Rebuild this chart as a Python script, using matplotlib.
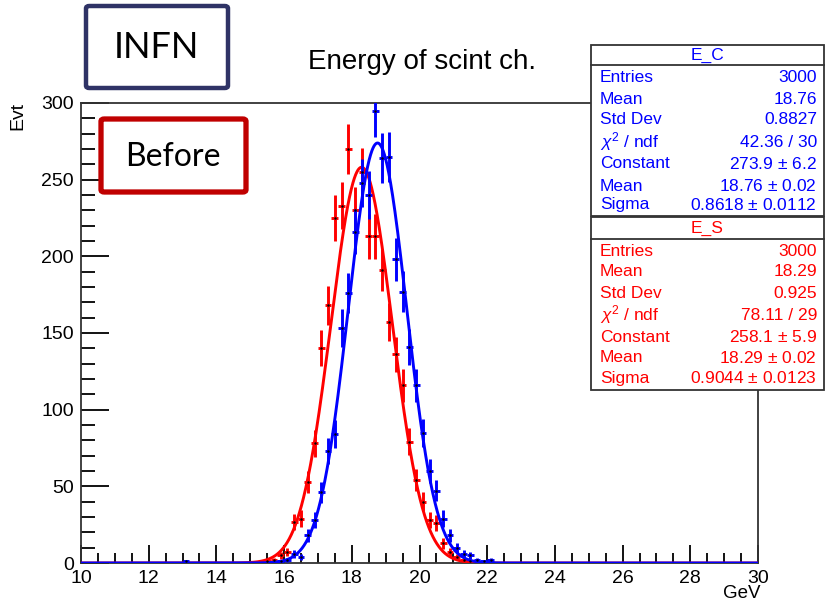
import numpy as np
import matplotlib
matplotlib.use("Agg")
import matplotlib.pyplot as plt
from matplotlib.patches import Rectangle, FancyBboxPatch

# ---------------- data ----------------
bin_width = 0.2
# E_S (red) histogram: bin centers and counts
es_centers = [15.5, 15.7, 15.9, 16.1, 16.3, 16.5, 16.7, 16.9, 17.1, 17.3, 17.5, 17.7,
              17.9, 18.1, 18.3, 18.5, 18.7, 18.9, 19.1, 19.3, 19.5, 19.7, 19.9, 20.1,
              20.3, 20.5, 20.7, 20.9, 21.1, 21.3, 21.5]
es_counts = [1, 2, 5, 7, 27, 29, 53, 78, 140, 168, 225, 233,
             270, 230, 255, 213, 213, 191, 157, 136, 116, 79, 54, 40,
             28, 26, 13, 7, 4, 2, 1]
# E_C (blue) histogram
ec_centers = [13.1, 15.9, 16.1, 16.3, 16.5, 16.7, 16.9, 17.1, 17.3, 17.5, 17.7, 17.9,
              18.1, 18.3, 18.5, 18.7, 18.9, 19.1, 19.3, 19.5, 19.7, 19.9, 20.1, 20.3,
              20.5, 20.7, 20.9, 21.1, 21.3, 21.5, 21.7, 21.9, 22.1]
ec_counts = [1, 1, 2, 6, 4, 18, 28, 46, 73, 84, 153, 176,
             216, 248, 240, 295, 264, 265, 198, 177, 141, 116, 85, 60,
             47, 29, 18, 10, 6, 5, 2, 1, 2]

# Gaussian fit parameters (constant, mean, sigma) from the stat boxes
ec_fit = [273.9, 18.76, 0.8618]
es_fit = [258.1, 18.29, 0.9044]

ec_stats = [("Entries", "3000"), ("Mean", "18.76"), ("Std Dev", "0.8827"),
            (r"$\chi^{2}$ / ndf", "42.36 / 30"), ("Constant", r"273.9 $\pm$ 6.2"),
            ("Mean", r"18.76 $\pm$ 0.02"), ("Sigma", r"0.8618 $\pm$ 0.0112")]
es_stats = [("Entries", "3000"), ("Mean", "18.29"), ("Std Dev", "0.925"),
            (r"$\chi^{2}$ / ndf", "78.11 / 29"), ("Constant", r"258.1 $\pm$ 5.9"),
            ("Mean", r"18.29 $\pm$ 0.02"), ("Sigma", r"0.9044 $\pm$ 0.0123")]

x_ticks = [10, 12, 14, 16, 18, 20, 22, 24, 26, 28, 30]
y_ticks = [0, 50, 100, 150, 200, 250, 300]

# ---------------- figure ----------------
W, H = 825, 606
plt.rcParams['font.family'] = ['Liberation Sans', 'DejaVu Sans']
plt.rcParams['mathtext.fontset'] = 'custom'
plt.rcParams['mathtext.rm'] = 'Liberation Sans'
plt.rcParams['mathtext.it'] = 'Liberation Sans:italic'

fig = plt.figure(figsize=(W / 100, H / 100), dpi=100)

def fx(px):
    return px / W

def fy(py):
    return 1 - py / H

ax_l, ax_r, ax_t, ax_b = 81, 758, 103, 563
ax = fig.add_axes([fx(ax_l), fy(ax_b), fx(ax_r) - fx(ax_l), fy(ax_t) - fy(ax_b)])
ax.set_xlim(10, 30)
ax.set_ylim(0, 300)

def gauss(x, p):
    return p[0] * np.exp(-0.5 * ((x - p[1]) / p[2]) ** 2)

xs = np.linspace(10, 30, 2000)

LW = 2.1
# red
es_c = np.array(es_centers)
es_n = np.array(es_counts, dtype=float)
ax.errorbar(es_c, es_n, xerr=bin_width / 2, yerr=np.sqrt(es_n), fmt='none',
            ecolor='#ff0000', elinewidth=LW, capsize=0, zorder=2)
ax.plot(xs, gauss(xs, es_fit), color='#ff0000', lw=LW, zorder=3)
# blue
ec_c = np.array(ec_centers)
ec_n = np.array(ec_counts, dtype=float)
ax.errorbar(ec_c, ec_n, xerr=bin_width / 2, yerr=np.sqrt(ec_n), fmt='none',
            ecolor='#0000ff', elinewidth=LW, capsize=0, zorder=4)
ax.plot(xs, gauss(xs, ec_fit), color='#0000ff', lw=LW, zorder=5)
ax.plot(es_c, es_n, ls='none', marker='.', ms=1.5, color='k', zorder=6)
ax.plot(ec_c, ec_n, ls='none', marker='.', ms=1.5, color='k', zorder=6)

# axes style (ROOT-like)
for s in ['top', 'right', 'left', 'bottom']:
    ax.spines[s].set_linewidth(1.3)
    ax.spines[s].set_color('#333333')
ax.set_xticks(x_ticks)
ax.set_xticks(np.arange(10, 30.01, 0.5), minor=True)
ax.set_yticks(y_ticks)
ax.set_yticks(np.arange(0, 300.01, 10), minor=True)
ax.tick_params(axis='x', which='major', direction='in', length=13, width=1.3,
               labelsize=14, pad=5, top=False)
ax.tick_params(axis='x', which='minor', direction='in', length=7, width=1.3, top=False)
ax.tick_params(axis='y', which='major', direction='in', length=20, width=1.3,
               labelsize=14, pad=5, right=False)
ax.tick_params(axis='y', which='minor', direction='in', length=10, width=1.3, right=False)

fig.text(fx(760), fy(593), "GeV", ha='right', va='center', fontsize=13.5)
fig.text(fx(18), fy(116), "Evt", ha='center', va='center', rotation=90, fontsize=14)
fig.text(fx(422), fy(62), "Energy of scint ch.", ha='center', va='center', fontsize=20)

# stat boxes
SF = 12.5
def stat_box(top, sep, bottom, title_y, title, rows, row_ys, color):
    left, right = 591, 824
    fig.patches.append(Rectangle((fx(left), fy(bottom)), fx(right) - fx(left),
                                 fy(top) - fy(bottom), transform=fig.transFigure,
                                 facecolor='white', edgecolor='#333333', lw=1.3, zorder=10))
    fig.lines.append(plt.Line2D([fx(left), fx(right)], [fy(sep), fy(sep)],
                                transform=fig.transFigure, color='#333333', lw=1.3, zorder=11))
    fig.text(fx((left + right) / 2), fy(title_y), title, ha='center', va='center',
             color=color, fontsize=SF, zorder=12)
    for (lab, val), yy in zip(rows, row_ys):
        fig.text(fx(600), fy(yy), lab, ha='left', va='center', color=color,
                 fontsize=SF, zorder=12)
        fig.text(fx(817), fy(yy), val, ha='right', va='center', color=color,
                 fontsize=SF, zorder=12)

stat_box(45, 65, 216, 55, "E_C", ec_stats,
         [77, 99, 120, 142, 164, 186, 205], '#0000ff')
stat_box(217, 239, 390, 228, "E_S", es_stats,
         [251, 272, 294, 315, 337, 358, 378], '#ff0000')

# label boxes
fig.patches.append(FancyBboxPatch((fx(86), fy(88)), fx(228) - fx(86), fy(6) - fy(88),
                                  boxstyle="round,pad=0,rounding_size=0.004",
                                  transform=fig.transFigure, facecolor='white',
                                  edgecolor='#2f3366', lw=3.2, zorder=10))
fig.text(fx(156), fy(48), "INFN", ha='center', va='center', fontsize=26,
         family=['Lato', 'DejaVu Sans'], zorder=12)
fig.patches.append(FancyBboxPatch((fx(101), fy(192)), fx(246) - fx(101), fy(119) - fy(192),
                                  boxstyle="round,pad=0,rounding_size=0.004",
                                  transform=fig.transFigure, facecolor='white',
                                  edgecolor='#c00000', lw=3.8, zorder=10))
fig.text(fx(173), fy(157), "Before", ha='center', va='center', fontsize=23,
         family=['Lato', 'DejaVu Sans'], zorder=12)

fig.savefig("out.png", dpi=100)
